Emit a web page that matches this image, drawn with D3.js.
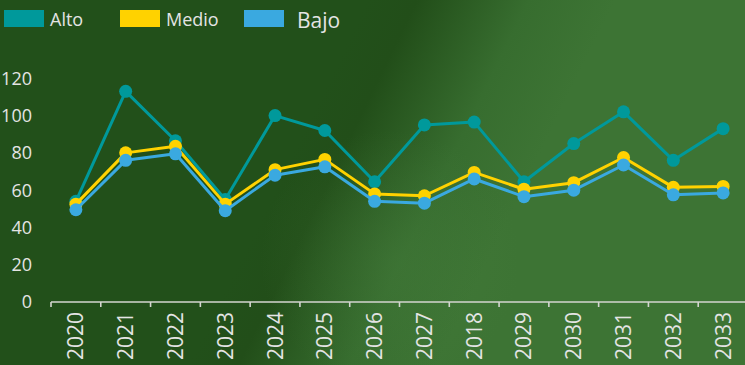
<!DOCTYPE html>
<html>
<head>
<meta charset="utf-8">
<script src="https://cdn.jsdelivr.net/npm/d3@7"></script>
<style>
  html, body { margin: 0; padding: 0; background: #23501b; }
  svg { display: block; font-family: "Open Sans", sans-serif; }
</style>
</head>
<body>
<svg id="chart" width="745" height="365"></svg>
<script>
// Years along the horizontal axis
const years = ["2020", "2021", "2022", "2023", "2024", "2025", "2026", "2027", "2018", "2029", "2030", "2031", "2032", "2033"];

// Scenario series
const alto  = [54, 113, 86.5, 55, 100, 92, 64.5, 95, 96.5, 64.5, 85, 102, 76, 93];
const medio = [52.5, 80, 83.5, 52.5, 71, 76.5, 58, 57, 69.5, 60.5, 64, 77.5, 61.5, 62];
const bajo  = [49.5, 76, 79.5, 49, 68, 72.5, 54, 53, 66, 56.5, 60, 73.5, 57.5, 58.5];

const yTicks = [0, 20, 40, 60, 80, 100, 120];

const series = [
  { name: "Alto",  values: alto,  color: "#00999b" },
  { name: "Medio", values: medio, color: "#ffd200" },
  { name: "Bajo",  values: bajo,  color: "#3aa9e0" }
];

const svg = d3.select("#chart");
const W = 745, H = 365;

// Board background: dark green on the left fading softly to a lighter green on the right
const defs = svg.append("defs");
const bg = defs.append("linearGradient")
  .attr("id", "bg").attr("gradientUnits", "userSpaceOnUse")
  .attr("x1", 300).attr("y1", 138).attr("x2", 500).attr("y2", 236);
bg.append("stop").attr("offset", 0).attr("stop-color", "#22501a");
bg.append("stop").attr("offset", 0.2).attr("stop-color", "#224e19");
bg.append("stop").attr("offset", 0.65).attr("stop-color", "#376d2f");
bg.append("stop").attr("offset", 1).attr("stop-color", "#3d7434");

const glow = defs.append("radialGradient").attr("id", "glow")
  .attr("gradientUnits", "userSpaceOnUse")
  .attr("cx", 390).attr("cy", 260).attr("r", 130);
glow.append("stop").attr("offset", 0).attr("stop-color", "#4a8240").attr("stop-opacity", 0.3);
glow.append("stop").attr("offset", 1).attr("stop-color", "#4a8240").attr("stop-opacity", 0);

svg.append("rect").attr("width", W).attr("height", H).attr("fill", "url(#bg)");
svg.append("rect").attr("width", W).attr("height", H).attr("fill", "url(#glow)");

// Scales
const x = d3.scaleBand().domain(years).range([51, 748]).padding(0);
const y = d3.scaleLinear().domain([0, 120]).range([302, 78.3]);
const cx = d => x(d) + x.bandwidth() / 2;

const textColor = "#e4e4e4";

// Y tick labels (no axis line)
svg.append("g").selectAll("text").data(yTicks).join("text")
  .attr("x", 32).attr("y", d => y(d)).attr("dy", "0.36em")
  .attr("text-anchor", "end").attr("font-size", 18).attr("fill", textColor)
  .text(d => d);

// X axis line with ticks at the band boundaries
const xa = svg.append("g").attr("stroke", "#d4d6d0").attr("stroke-width", 1.6).attr("fill", "none");
xa.append("line").attr("x1", x.range()[0]).attr("x2", W).attr("y1", y(0)).attr("y2", y(0));
xa.selectAll("line.tick").data(years).join("line").attr("class", "tick")
  .attr("x1", d => x(d)).attr("x2", d => x(d))
  .attr("y1", y(0)).attr("y2", y(0) + 5);

// Rotated year labels
svg.append("g").selectAll("text").data(years).join("text")
  .attr("transform", d => `translate(${cx(d) + 7.5},312) rotate(-90)`)
  .attr("text-anchor", "end").attr("font-size", 21).attr("fill", textColor)
  .text(d => d);

// Lines and markers
const line = d3.line().x((d, i) => cx(years[i])).y(d => y(d));
series.forEach(s => {
  const g = svg.append("g");
  g.append("path").datum(s.values).attr("d", line)
    .attr("fill", "none").attr("stroke", s.color).attr("stroke-width", 3)
    .attr("stroke-linejoin", "round");
  g.selectAll("circle").data(s.values).join("circle")
    .attr("cx", (d, i) => cx(years[i])).attr("cy", d => y(d)).attr("r", 6.5)
    .attr("fill", s.color);
});

// Legend
const legend = [
  { x: 4,   tx: 50,  ty: 26, fs: 18 },
  { x: 120, tx: 166, ty: 26, fs: 18 },
  { x: 244, tx: 297, ty: 28, fs: 21 }
];
series.forEach((s, i) => {
  const L = legend[i];
  svg.append("rect").attr("x", L.x).attr("y", 10).attr("width", 40).attr("height", 17).attr("fill", s.color);
  svg.append("text").attr("x", L.tx).attr("y", L.ty).attr("font-size", L.fs)
    .attr("fill", textColor).text(s.name);
});
</script>
</body>
</html>
